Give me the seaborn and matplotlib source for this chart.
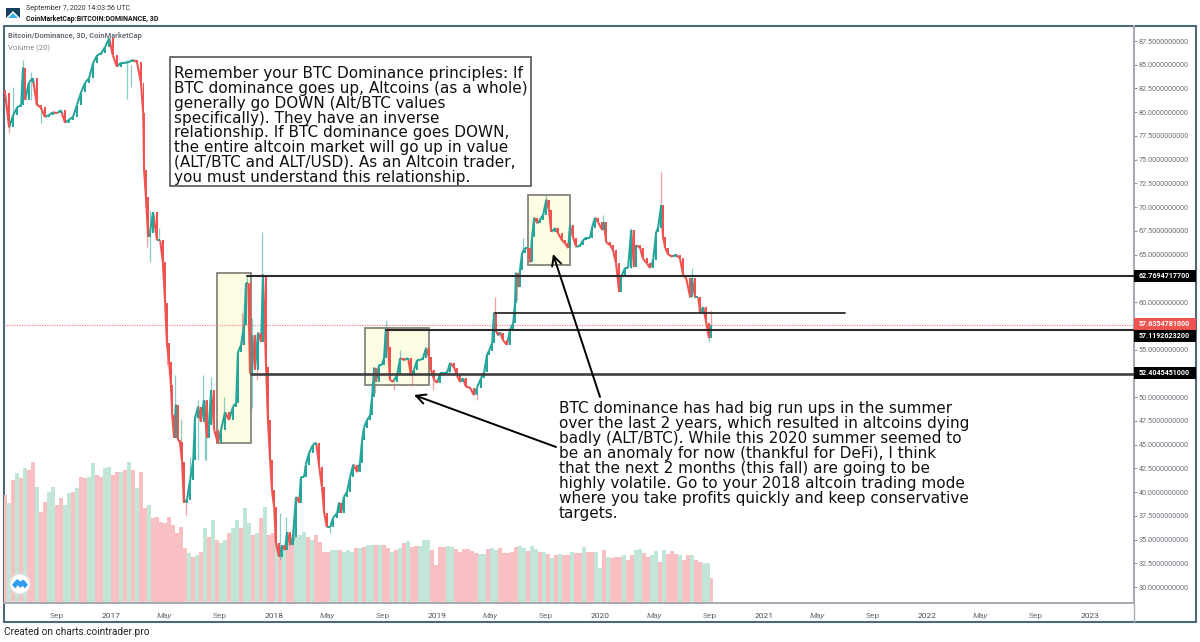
import numpy as np
import pandas as pd
import matplotlib
matplotlib.use("Agg")
import matplotlib.pyplot as plt
from matplotlib.collections import LineCollection
from matplotlib.lines import Line2D
from matplotlib.patches import Rectangle, Polygon, Circle
import seaborn as sns

# days counted from 2017-01-01, close of each candle (dominance %)
bar_days = [
    -237, -228, -219, -210, -201, -197, -192, -184, -175, -166,
    -157, -148, -139, -130, -121, -112, -103, -94, -85, -76,
    -67, -58, -49, -40, -31, -22, -13, -4, 4, 13,
    22, 31, 40, 49, 58, 67, 72, 74, 78, 83,
    87, 94, 103, 110, 116, 121, 125, 130, 134, 137,
    141, 145, 150, 154, 159, 163, 170, 177, 184, 188,
    195, 201, 208, 215, 219, 224, 231, 239, 246, 255,
    264, 273, 280, 284, 291, 298, 302, 307, 311, 316,
    322, 329, 336, 340, 347, 351, 356, 360, 365, 369,
    376, 383, 389, 394, 401, 407, 414, 421, 425, 432,
    436, 443, 452, 459, 466, 472, 477, 483, 490, 497,
    506, 510, 515, 521, 528, 535, 542, 551, 557, 562,
    566, 573, 580, 584, 589, 593, 600, 606, 611, 615,
    620, 624, 631, 640, 647, 656, 665, 671, 678, 685,
    692, 698, 705, 712, 716, 723, 730, 736, 743, 752,
    759, 768, 774, 781, 788, 794, 803, 812, 819, 828,
    835, 841, 846, 853, 857, 862, 866, 871, 877, 886,
    893, 900, 904, 906, 911, 915, 920, 927, 933, 938,
    942, 947, 954, 960, 967, 974, 980, 985, 994, 1000,
    1009, 1016, 1023, 1027, 1034, 1041, 1050, 1056, 1063, 1072,
    1076, 1083, 1090, 1099, 1103, 1108, 1117, 1123, 1130, 1137,
    1141, 1150, 1157, 1164, 1170, 1175, 1184, 1190, 1199, 1206,
    1213, 1220, 1224, 1231, 1235, 1240, 1247, 1256, 1264, 1273,
    1280, 1287, 1296, 1300, 1307, 1314, 1318, 1325, 1332, 1338, 1343,
]
closes = [
    82.0, 78.4, 79.7, 80.5, 80.8, 84.7, 81.3, 83.1, 83.6, 80.8,
    80.5, 79.5, 79.7, 80.0, 79.9, 80.2, 78.9, 79.2, 79.5, 80.8,
    82.1, 83.1, 83.6, 85.2, 86.0, 86.2, 86.9, 87.8, 86.0, 84.8,
    85.2, 85.2, 85.3, 85.5, 85.3, 83.1, 79.9, 73.9, 71.1, 66.9,
    67.3, 69.5, 66.5, 66.5, 64.2, 59.9, 55.7, 53.7, 51.3, 48.1,
    45.7, 49.2, 45.5, 45.3, 43.2, 38.9, 39.2, 41.3, 43.4, 47.8,
    49.0, 47.4, 49.7, 45.7, 47.1, 50.7, 46.5, 45.2, 46.5, 48.4,
    47.6, 49.0, 49.4, 54.7, 55.5, 57.6, 62.0, 62.0, 52.5, 56.5,
    52.9, 56.8, 55.8, 62.9, 53.2, 47.6, 43.4, 40.2, 38.4, 34.6,
    33.2, 34.4, 33.9, 35.8, 34.4, 35.3, 39.5, 38.9, 41.6, 41.6,
    42.9, 44.1, 45.0, 45.2, 42.6, 40.5, 37.8, 36.3, 36.3, 37.3,
    37.8, 38.9, 37.8, 39.5, 40.0, 41.6, 42.9, 42.1, 43.1, 45.5,
    46.8, 47.6, 48.1, 50.0, 53.1, 51.6, 53.4, 53.4, 54.1, 57.3,
    55.3, 51.8, 51.6, 52.3, 54.1, 53.9, 54.1, 52.3, 52.9, 53.9,
    53.9, 54.1, 55.2, 54.2, 52.9, 51.8, 51.5, 52.5, 52.5, 52.6,
    53.6, 53.1, 52.3, 51.6, 52.0, 51.1, 51.0, 50.2, 51.0, 52.0,
    52.6, 54.4, 54.9, 55.7, 58.9, 56.9, 56.5, 56.8, 56.0, 55.5,
    57.1, 57.8, 59.9, 63.1, 61.6, 63.4, 65.2, 65.7, 65.7, 64.2,
    66.9, 68.9, 68.3, 68.7, 69.2, 70.8, 69.7, 67.4, 67.8, 67.3,
    66.5, 66.2, 65.7, 68.1, 66.8, 65.8, 66.0, 66.5, 66.8, 66.8,
    67.8, 68.9, 68.4, 67.6, 68.4, 66.3, 66.0, 65.5, 64.1, 61.1,
    62.6, 63.6, 63.6, 67.6, 63.7, 66.0, 65.7, 64.6, 64.1, 63.6,
    64.4, 67.4, 67.8, 70.2, 66.9, 65.7, 65.0, 64.8, 65.0, 64.6,
    62.9, 62.5, 60.5, 62.5, 60.5, 60.5, 58.9, 59.5, 57.8, 56.2, 57.6,
]

# the wicks that stick out visibly
wick_days = [-228, -219, -197, -179, -157, 36, 45, 81, 87, 107,
             125, 143, 156, 177, 168, 195, 206, 210, 224, 213,
             253, 293, 304, 316, 327, 338, 345, 378, 392, 410,
             490, 591, 615, 633, 647, 674, 721, 756, 819, 860,
             909, 922, 974, 1101, 1164, 1231, 1300, 1343, 1338]
wick_tops = [78.4, 82.7, 85.5, 84.2, 80.5, 85.5, 85.0, 67.6, 69.7, 67.8,
             56.5, 52.3, 47.7, 43.7, 39.2, 49.7, 52.3, 49.7, 52.1, 46.9,
             50.0, 58.9, 62.9, 58.3, 56.8, 67.4, 56.0, 37.8, 37.4, 36.8,
             36.3, 51.5, 58.1, 51.5, 55.0, 52.3, 51.8, 53.7, 50.2, 60.5,
             63.1, 66.8, 71.3, 69.2, 67.8, 73.7, 63.6, 59.2, 56.2]
wick_bottoms = [77.8, 79.7, 81.3, 81.3, 78.9, 81.4, 82.7, 65.8, 64.2, 66.5,
                53.4, 47.6, 44.7, 41.3, 37.6, 43.4, 48.6, 43.4, 50.7, 43.4,
                46.9, 55.5, 62.0, 48.9, 51.8, 62.9, 53.2, 32.8, 34.4, 35.0,
                35.7, 50.4, 57.3, 50.8, 54.1, 51.2, 50.8, 52.5, 49.7, 58.9,
                60.2, 65.2, 70.8, 67.6, 63.6, 70.2, 62.3, 57.1, 55.8]
wick_dirs = list("rggggggrgg" "rgggrggggg" "grggrgrggg" "grgrgrrgrr" "rggggrgrg")

volumes = [
    108, 100, 123, 130, 125, 135, 133, 141, 116, 91,
    101, 111, 116, 98, 105, 98, 110, 111, 115, 126,
    125, 126, 140, 128, 126, 135, 136, 128, 131, 131,
    133, 141, 133, 115, 131, 95, 98, 85, 86, 81,
    80, 86, 78, 70, 76, 55, 50, 46, 48, 51,
    75, 66, 83, 63, 60, 63, 70, 75, 83, 75,
    95, 80, 68, 70, 85, 96, 68, 70, 60, 53,
    58, 66, 68, 66, 68, 71, 66, 63, 68, 61,
    51, 51, 53, 53, 53, 51, 53, 51, 55, 55,
    56, 58, 58, 58, 58, 58, 55, 51, 53, 55,
    60, 62, 56, 57, 57, 63, 63, 53, 38, 56,
    56, 57, 56, 54, 51, 54, 54, 52, 50, 49,
    49, 54, 55, 53, 55, 50, 50, 51, 56, 57,
    55, 52, 57, 54, 51, 51, 49, 45, 48, 49,
    48, 48, 51, 50, 50, 56, 51, 51, 51, 35,
    53, 46, 45, 46, 46, 48, 43, 48, 53, 54,
    50, 46, 48, 52, 41, 53, 49, 52, 49, 48,
    43, 48, 48, 43, 41, 40, 40, 25,
]
volume_dirs = list(
    "rgrgrgrrgr" "rggrrggrgr" "rggrrggrrg" "rgrgrrgrrr" "rrrrrrgrgr"
    "grgrggrggr" "ggrgrgrrgr" "grrgggrgrr" "rrggrgggrg" "rggrgrrgrg"
    "rgrrgggrrr" "rggrrrrrrg" "grggrrrrrg" "grggrgrgrg" "rrgrrgrrgg"
    "rgrrrgrrgg" "rrggrgrrrg" "rrgrrggr"
)

tick_dates = ["2016-09-01", "2017-01-01", "2017-05-01", "2017-09-01", "2018-01-01",
              "2018-05-01", "2018-09-01", "2019-01-01", "2019-05-01", "2019-09-01",
              "2020-01-01", "2020-05-01", "2020-09-01", "2021-01-01", "2021-05-01",
              "2021-09-01", "2022-01-01", "2022-05-01", "2022-09-01", "2023-01-01"]
tick_names = ["Sep", "2017", "May", "Sep", "2018", "May", "Sep", "2019", "May", "Sep",
              "2020", "May", "Sep", "2021", "May", "Sep", "2022", "May", "Sep", "2023"]
# 62.5, 57.5 and 52.5 sit behind the price tags in the reference
price_ticks = [87.5, 85, 82.5, 80, 77.5, 75, 72.5, 70, 67.5, 65, 60,
               55, 50, 47.5, 45, 42.5, 40, 37.5, 35, 32.5, 30]

level_high = 62.7694717700
level_mid = 57.1192623200
level_low = 52.4045451000
level_last = 57.6354781000
level_extra = 58.85

note_top = ("Remember your BTC Dominance principles: If\n"
            "BTC dominance goes up, Altcoins (as a whole)\n"
            "generally go DOWN (Alt/BTC values\n"
            "specifically). They have an inverse\n"
            "relationship. If BTC dominance goes DOWN,\n"
            "the entire altcoin market will go up in value\n"
            "(ALT/BTC and ALT/USD). As an Altcoin trader,\n"
            "you must understand this relationship.")
note_bottom = ("BTC dominance has had big run ups in the summer\n"
               "over the last 2 years, which resulted in altcoins dying\n"
               "badly (ALT/BTC). While this 2020 summer seemed to\n"
               "be an anomaly for now (thankful for DeFi), I think\n"
               "that the next 2 months (this fall) are going to be\n"
               "highly volatile. Go to your 2018 altcoin trading mode\n"
               "where you take profits quickly and keep conservative\n"
               "targets.")

TEAL = "#26a69a"
RED = "#ef5350"
W, H = 1200, 642


def fx(x):
    return x / W


def fy(y):
    return 1 - y / H


sns.set_theme(style="white")
plt.rcParams["font.family"] = ["Roboto", "DejaVu Sans"]

fig = plt.figure(figsize=(12, 6.42), dpi=100, facecolor="white")
ax = fig.add_axes([fx(4), fy(603), 1130 / W, 577 / H])
ax_vol = ax.twinx()
ax.set_zorder(2)
ax_vol.set_zorder(1)
ax.patch.set_visible(False)

# volume pane
vol_df = pd.DataFrame({
    "day": np.round(-237 + 8.93 * np.arange(len(volumes)), 2),
    "volume": volumes,
    "dir": volume_dirs,
})
sns.barplot(data=vol_df, x="day", y="volume", hue="dir", palette={"r": "#f9c0c4", "g": "#c1e5d6"},
            native_scale=True, dodge=False, width=1, saturation=1, linewidth=0,
            legend=False, errorbar=None, ax=ax_vol)
ax_vol.set_ylim(0, 577)
ax_vol.set_yticks([])
ax_vol.set_xlabel("")
ax_vol.set_ylabel("")

# highlight boxes under the candles
for d0, d1, v0, v1 in [(237, 313, 45.17, 63.07), (568, 711, 51.28, 57.28), (934, 1026, 63.9, 71.28)]:
    ax.add_patch(Rectangle((d0, v0), d1 - d0, v1 - v0, facecolor="#fdfde3", edgecolor="#85857a",
                           linewidth=1.3, zorder=1))

# candles, tied together so the run reads as one thick line like the 3D bars do
days = np.array(bar_days, dtype=float)
close = np.array(closes)
opens = np.r_[close[0] + 0.3, close[:-1]]
colors = np.where(close >= opens, TEAL, RED)
widths = np.clip(np.r_[np.diff(days), 4], 3, 4.5)
for d, t, b, c in zip(wick_days, wick_tops, wick_bottoms, wick_dirs):
    ax.plot([d, d], [b, t], color=TEAL if c == "g" else RED, alpha=0.55, lw=0.9,
            solid_capstyle="butt", zorder=2.5)
segments = np.stack([np.c_[days[:-1], close[:-1]], np.c_[days[1:], close[1:]]], axis=1)
ax.add_collection(LineCollection(segments, colors=list(colors[1:]), linewidths=1.5, zorder=3))
ax.bar(days, close - opens, bottom=opens, width=widths, color=colors, linewidth=0, zorder=3)

# levels
ax.axhline(level_last, color="#f58a8d", lw=0.9, ls=(0, (1, 1)), zorder=2)
ax.plot([304, 2289], [level_high] * 2, color="#2b2b2b", lw=1.5, zorder=4)
ax.plot([615, 2289], [level_mid] * 2, color="#2b2b2b", lw=1.5, zorder=4)
ax.plot([313, 2289], [level_low] * 2, color="#3f3f3f", lw=1.9, zorder=4)
ax.plot([860, 1643], [level_extra] * 2, color="#2b2b2b", lw=1.3, zorder=4)

# axes
ax.set_xlim(-239.5, 2289)
ax.set_ylim(28.32, 89.08)
tick_days = (pd.to_datetime(tick_dates) - pd.Timestamp("2017-01-01")).days
ax.set_xticks(tick_days)
ax.set_xticklabels(tick_names)
ax.yaxis.tick_right()
ax.set_yticks(price_ticks)
ax.set_yticklabels([f"{v:.10f}" for v in price_ticks])
ax.tick_params(axis="y", length=2, width=0.8, color="#9598a1", labelsize=5.2, labelcolor="#6a6d78", pad=1.5)
ax.tick_params(axis="x", length=2.5, width=0.8, color="#9598a1", labelsize=6.0, labelcolor="#6a6d78", pad=4.5)
for label in ax.get_xticklabels():
    name = label.get_text()
    if name == "May":
        label.set_fontstyle("italic")
    elif name.isdigit():
        label.set_color("#4a4d58")
for a in (ax, ax_vol):
    for side in ("top", "left"):
        a.spines[side].set_visible(False)
    for side in ("right", "bottom"):
        a.spines[side].set_color("#a8abb4")
        a.spines[side].set_linewidth(1.4)

# outer frame and the strip under the x axis
fig.add_artist(Rectangle((fx(4), fy(622)), 1192 / W, 596 / H, fill=False, edgecolor="#4d6878",
                         linewidth=1.5, transform=fig.transFigure))
fig.add_artist(Line2D([fx(1134), fx(1134)], [fy(603), fy(622)], color="#a8abb4", lw=1))

# price tags on the right
for value, y, bg in [(level_high, 276, "#000000"), (level_last, 324, "#ef5350"),
                     (level_mid, 336, "#000000"), (level_low, 373, "#000000")]:
    fig.add_artist(Rectangle((fx(1134), fy(y + 6)), 62 / W, 12 / H, facecolor=bg, edgecolor="none",
                             transform=fig.transFigure, zorder=4))
    fig.text(fx(1139), fy(y), f"{value:.10f}", color="white", fontsize=5.1, va="center",
             fontweight="bold", zorder=5)

# notes
fig.add_artist(Rectangle((fx(170), fy(186)), 361 / W, 129 / H, facecolor="white", edgecolor="#555555",
                         linewidth=1.2, transform=fig.transFigure, zorder=4))
fig.text(fx(174), fy(125.5), note_top, family="DejaVu Sans", fontsize=10.95, color="#111111",
         va="center", linespacing=0.98, zorder=5)
fig.text(fx(559), fy(461), note_bottom, family="DejaVu Sans", fontsize=11, color="#111111",
         va="center", linespacing=0.99, zorder=5)

# arrows
for tip, tail in [((553, 254), (600, 397)), ((414, 395), (556, 447))]:
    ax.annotate("", xy=(fx(tip[0]), fy(tip[1])), xycoords="figure fraction",
                xytext=(fx(tail[0]), fy(tail[1])), textcoords="figure fraction",
                arrowprops=dict(arrowstyle="->", color="black", lw=1.4, mutation_scale=17,
                                shrinkA=0, shrinkB=0), zorder=6)

# header and footer
fig.text(fx(26), fy(8), "September 7, 2020 14:03:56 UTC", fontsize=5.1, color="#333333", va="center")
fig.text(fx(26), fy(19), "CoinMarketCap:BITCOIN:DOMINANCE, 3D", fontsize=5.0, color="#111111",
         va="center", fontweight="bold")
fig.text(fx(8), fy(36), "Bitcoin/Dominance, 3D, CoinMarketCap", fontsize=5.4, color="#6a6d78",
         va="center", fontweight="bold", zorder=5)
fig.text(fx(8), fy(48), "Volume (20)", fontsize=5.5, color="#85888f", va="center", zorder=5)
fig.text(fx(4), fy(632), "Created on charts.cointrader.pro", fontsize=7.2, color="#222222", va="center")

# logos
fig.add_artist(Polygon([(fx(6), fy(8)), (fx(20), fy(8)), (fx(20), fy(18)), (fx(13), fy(11)), (fx(6), fy(18))],
                       facecolor="#17405f", edgecolor="none", transform=fig.transFigure))
fig.add_artist(Polygon([(fx(8), fy(18)), (fx(13), fy(13)), (fx(18), fy(18))],
                       facecolor="#3fb4e6", edgecolor="none", transform=fig.transFigure))
logo_ax = fig.add_axes([fx(9), fy(595), 22 / W, 22 / H], zorder=5)
logo_ax.set_xlim(-11, 11)
logo_ax.set_ylim(-11, 11)
logo_ax.axis("off")
logo_ax.add_patch(Circle((0, 0), 10, facecolor="white", edgecolor="#e3e3e3", linewidth=1))
logo_ax.plot([-6, -2.5, 0.5, 3, 6], [-1, 3, 0, 2.5, -1], color="#2f9cf0", lw=2.4)
logo_ax.plot([-5, -2.5, 0.5, 3, 5], [-3, 0.5, -2.5, 0, -3], color="#2f9cf0", lw=1.6)

fig.savefig("out.png", dpi=100)
